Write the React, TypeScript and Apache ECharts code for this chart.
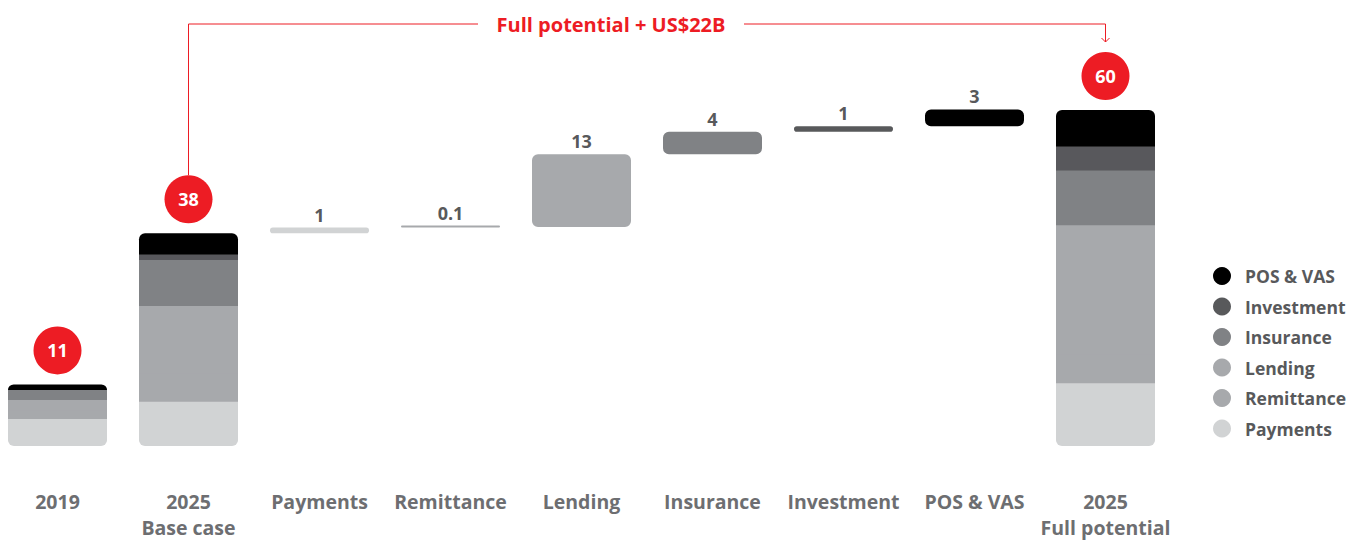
import React, { useEffect, useRef } from "react";
import * as echarts from "echarts";

const categories = [
  "2019",
  "2025\nBase case",
  "Payments",
  "Remittance",
  "Lending",
  "Insurance",
  "Investment",
  "POS & VAS",
  "2025\nFull potential",
];
const segmentNames = ["Payments", "Remittance", "Lending", "Insurance", "Investment", "POS & VAS"];
const segmentColors = ["#d1d3d4", "#a7a9ac", "#a7a9ac", "#808285", "#58595b", "#000000"];
const stack2019 = [4.8, 1.5, 1.9, 1.8, 0, 1.0];
const stackBase = [7.9, 5.0, 12.1, 8.2, 1.0, 3.8];
const stackFull = [11.2, 5.1, 23.1, 9.8, 4.3, 6.5];
const deltas = [1, 0.1, 13, 4, 1, 3];
const totals = [11, 38, 60];
const totalIndex = [0, 1, 8];
const legendOrder = ["POS & VAS", "Investment", "Insurance", "Lending", "Remittance", "Payments"];
const bracketText = "Full potential + US$22B";

const RED = "#ed1c24";
const FONT = "'Open Sans', sans-serif";
const SHIFT = 8;

export default function App() {
  const ref = useRef<HTMLDivElement>(null);
  useEffect(() => {
    if (!ref.current) return;
    const chart = echarts.init(ref.current, undefined, { renderer: "svg" });

    const baseTotal = stackBase.reduce((a, b) => a + b, 0);
    const invisible: any[] = categories.map(() => "-");
    let run = baseTotal;
    deltas.forEach((d, k) => {
      invisible[2 + k] = run;
      run += d;
    });

    const stackItem = (arr: number[], i: number) => {
      const v = arr[i];
      if (!v) return "-";
      let top = arr.length - 1;
      while (top > 0 && !arr[top]) top--;
      let r: any = 0;
      if (i === 0) r = [0, 0, 6, 6];
      if (i === top) r = [6, 6, 0, 0];
      const itemStyle: any = { borderRadius: r };
      if (i !== top) {
        itemStyle.shadowColor = segmentColors[i];
        itemStyle.shadowBlur = 0;
        itemStyle.shadowOffsetY = -1.5;
      }
      return { value: v, itemStyle };
    };

    const segSeries = segmentNames.map((name, i) => {
      const data: any[] = categories.map(() => "-");
      data[0] = stackItem(stack2019, i);
      data[1] = stackItem(stackBase, i);
      data[8] = stackItem(stackFull, i);
      data[2 + i] = {
        value: deltas[i],
        itemStyle: { borderRadius: 6 },
        label: {
          show: true,
          position: "top",
          distance: 4,
          formatter: String(deltas[i]),
          fontFamily: FONT,
          fontWeight: "bold",
          fontSize: 18,
          color: "#58595b",
        },
      };
      return {
        name,
        type: "bar",
        stack: "w",
        barWidth: 99,
        barMinHeight: name === "Remittance" ? 2 : 0,
        itemStyle: { color: segmentColors[i] },
        data,
      };
    });

    chart.setOption({
      animation: false,
      grid: { left: 0, right: 191, top: 54, bottom: 93, containLabel: false },
      xAxis: {
        type: "category",
        data: categories,
        axisLine: { show: false },
        axisTick: { show: false },
        axisLabel: {
          interval: 0,
          margin: 42,
          fontFamily: FONT,
          fontWeight: "bold",
          fontSize: 19.5,
          lineHeight: 26,
          color: "#6d6e71",
        },
      },
      yAxis: { type: "value", min: 0, max: 70, show: false },
      legend: {
        data: legendOrder,
        orient: "vertical",
        left: 1208 + SHIFT,
        top: 262,
        itemWidth: 18,
        itemHeight: 18,
        itemGap: 12.5,
        icon: "circle",
        selectedMode: false,
        textStyle: {
          fontFamily: FONT,
          fontWeight: "bold",
          fontSize: 17.5,
          color: "#58595b",
          padding: [0, 0, 0, 9],
        },
      },
      series: [
        {
          name: "base",
          type: "bar",
          stack: "w",
          barWidth: 99,
          itemStyle: { color: "transparent" },
          data: invisible,
          silent: true,
        },
        ...segSeries,
        {
          name: "totals",
          type: "scatter",
          symbol: "circle",
          symbolSize: 48,
          symbolOffset: [0, -34],
          clip: false,
          itemStyle: { color: RED, opacity: 1 },
          label: {
            show: true,
            position: "inside",
            formatter: (p: any) => String(p.value[1]),
            fontFamily: FONT,
            fontWeight: "bold",
            fontSize: 18,
            color: "#ffffff",
          },
          data: totals.map((t, i) => [totalIndex[i], t]),
        },
      ],
    });

    const pb = chart.convertToPixel({ gridIndex: 0 }, [1, totals[1]]) as number[];
    const pf = chart.convertToPixel({ gridIndex: 0 }, [8, totals[2]]) as number[];
    const lineY = 24;
    const circleTop = pb[1] - 34 - 24;
    const textX = 611 + SHIFT;
    const textHalf = 116;
    const gap = 17;
    const arrowEnd = pf[1] - 34 - 24 - 10;
    chart.setOption({
      graphic: [
        {
          type: "polyline",
          shape: { points: [[pb[0], circleTop], [pb[0], lineY], [textX - textHalf - gap, lineY]] },
          style: { stroke: RED, lineWidth: 1, fill: "none" },
        },
        {
          type: "polyline",
          shape: { points: [[textX + textHalf + gap, lineY], [pf[0], lineY], [pf[0], arrowEnd]] },
          style: { stroke: RED, lineWidth: 1, fill: "none" },
        },
        {
          type: "polyline",
          shape: { points: [[pf[0] - 4, arrowEnd - 4], [pf[0], arrowEnd], [pf[0] + 4, arrowEnd - 4]] },
          style: { stroke: RED, lineWidth: 1, fill: "none" },
        },
        {
          type: "text",
          x: textX,
          y: lineY,
          style: {
            text: bracketText,
            fill: RED,
            fontFamily: FONT,
            fontWeight: "bold",
            fontSize: 20,
            align: "center",
            verticalAlign: "middle",
          },
        },
      ],
    });

    return () => chart.dispose();
  }, []);
  return (
    <div
      ref={ref}
      style={{ position: "absolute", left: -SHIFT, top: 0, width: 1362 + SHIFT, height: 540 }}
    />
  );
}
